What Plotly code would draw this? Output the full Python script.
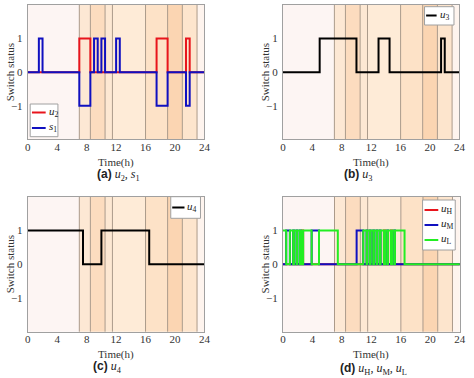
import plotly.graph_objects as go

# ---------------- data ----------------
hours_ticks = [0, 4, 8, 12, 16, 20, 24]
status_ticks = [-1, 0, 1]

# background price periods (boundaries, colours)
period_edges = [0, 7, 8.5, 10.5, 11.5, 16, 19, 21, 23, 24]
period_colors = ["#fdf5f3", "#fde8d4", "#fcdcbf", "#fde8d3", "#feebd7",
                 "#fde2c7", "#fbd5b2", "#fde5cd", "#fef4ee"]

# (a)
u2_t = [0, 7, 8.5, 17.5, 19, 21.5, 22, 24]
u2_v = [0, 1, 0, 1, 0, 1, 0, 0]
s1_t = [0, 1.5, 2, 7, 8.5, 9, 9.5, 10, 10.5, 12, 12.5, 17.5, 19, 21.5, 22, 24]
s1_v = [0, 1, 0, -1, 0, 1, 0, 1, 0, 1, 0, -1, 0, -1, 0, 0]
# (b)
u3_t = [0, 5, 10, 13, 14.5, 21.5, 22, 24]
u3_v = [0, 1, 0, 1, 0, 1, 0, 0]
# (c)
u4_t = [0, 7.5, 10, 16.5, 24]
u4_v = [1, 0, 1, 0, 0]
# (d) active device in each interval
d_times = [0, 0.45, 0.95, 1.4, 1.5, 1.85, 1.95, 2.3, 2.4, 2.6, 2.75, 3.9, 4.9, 7.45,
           10, 10.9, 11.35, 11.45, 11.8, 11.9, 12.25, 12.35, 12.7, 12.8, 13.15, 13.25,
           13.7, 13.85, 14.15, 14.25, 14.65, 14.8, 15.1, 15.2, 16.5, 24]
d_active = ["L", "M", "L", "M", "L", "M", "L", "M", "L", "H", "L", "M", "L", "-",
            "M", "L", "M", "L", "M", "L", "M", "L", "M", "L", "M",
            "L", "H", "L", "M", "L", "H", "L", "M", "L", "-", "-"]

def dev_values(name):
    return [1 if a == name else 0 for a in d_active]

# ---------------- layout geometry ----------------
W, H = 474, 378
panels = {
    "a": dict(x=(25.3, 205.3), y=(5, 139.3)),
    "b": dict(x=(285.3, 465.3), y=(5, 139.3)),
    "c": dict(x=(25.3, 205.3), y=(196.7, 331.7)),
    "d": dict(x=(285.3, 465.7), y=(196.7, 331.7)),
}
axis_ids = {"a": ("x", "y"), "b": ("x2", "y2"), "c": ("x3", "y3"), "d": ("x4", "y4")}

def px_x(v): return v / W
def px_y(v): return 1 - v / H

fig = go.Figure()

RED, BLUE, GREEN, BLACK = "#e8141c", "#1010c0", "#22ee22", "#000000"
LW = 2

def add(panel, t, v, name, color):
    xa, ya = axis_ids[panel]
    fig.add_trace(go.Scatter(x=t, y=v, mode="lines", line_shape="hv",
                             line=dict(color=color, width=LW),
                             name=name, xaxis=xa, yaxis=ya, showlegend=False))

add("a", u2_t, u2_v, "u2", RED)
add("a", s1_t, s1_v, "s1", BLUE)
add("b", u3_t, u3_v, "u3", BLACK)
add("c", u4_t, u4_v, "u4", BLACK)
add("d", d_times, dev_values("H"), "uH", RED)
add("d", d_times, dev_values("M"), "uM", BLUE)
add("d", d_times, dev_values("L"), "uL", GREEN)

SERIF = "Liberation Serif, Times New Roman, serif"
tickfont = dict(family=SERIF, size=11, color="#333333")
layout = dict(width=W, height=H, margin=dict(l=0, r=0, t=0, b=0),
              paper_bgcolor="white", plot_bgcolor="white", showlegend=False)

shapes = []
annotations = []
for key, p in panels.items():
    xa, ya = axis_ids[key]
    xname = "xaxis" + xa[1:]
    yname = "yaxis" + ya[1:]
    layout[xname] = dict(domain=[px_x(p["x"][0]), px_x(p["x"][1])], range=[0, 24],
                         tickvals=hours_ticks, tickfont=tickfont, showgrid=False,
                         zeroline=False, showline=True, mirror=True,
                         linecolor="#a0a0a0", linewidth=1, anchor=ya, ticks="",
                         ticklen=0, ticklabelstandoff=-3, fixedrange=True)
    layout[yname] = dict(domain=[px_y(p["y"][1]), px_y(p["y"][0])], range=[-2, 2],
                         tickvals=status_ticks, tickfont=tickfont, showgrid=False,
                         zeroline=False, showline=True, mirror=True,
                         linecolor="#a0a0a0", linewidth=1, anchor=xa, ticks="",
                         ticklen=0, ticklabelstandoff=2, fixedrange=True)
    for i, c in enumerate(period_colors):
        shapes.append(dict(type="rect", xref=xa, yref=ya + " domain",
                           x0=period_edges[i], x1=period_edges[i + 1], y0=0, y1=1,
                           fillcolor=c, line=dict(width=0), layer="below"))
    for e in period_edges[1:-1]:
        shapes.append(dict(type="line", xref=xa, yref=ya + " domain",
                           x0=e, x1=e, y0=0, y1=1,
                           line=dict(color="#ab9a8a", width=1), layer="below"))
    # y title
    xc = p["x"][0] - 18
    annotations.append(dict(text="Switch status", x=px_x(xc), y=px_y((p["y"][0] + p["y"][1]) / 2),
                            xref="paper", yref="paper", textangle=-90, showarrow=False,
                            font=dict(family=SERIF, size=11, color="#333333"),
                            xanchor="center", yanchor="middle"))
    annotations.append(dict(text="Time(h)", x=px_x((p["x"][0] + p["x"][1]) / 2),
                            y=px_y(p["y"][1] + 23), xref="paper", yref="paper",
                            showarrow=False, xanchor="center", yanchor="middle",
                            font=dict(family=SERIF, size=11, color="#333333")))

cap_font = dict(family=SERIF, size=12, color="#222222")
def cap(label, rest):
    return ('<span style="font-family:\'Liberation Sans\';font-weight:bold">(' + label + ')</span> '
            + rest)
captions = [
    (cap("a", "<i>u</i><sub>2</sub>, <i>s</i><sub>1</sub>"), 117.5, 175),
    (cap("b", "<i>u</i><sub>3</sub>"), 362, 175),
    (cap("c", "<i>u</i><sub>4</sub>"), 107, 367),
    (cap("d", "<i>u</i><sub>H</sub>, <i>u</i><sub>M</sub>, <i>u</i><sub>L</sub>"), 378, 369),
]
for txt, cx, cy in captions:
    annotations.append(dict(text=txt, x=px_x(cx), y=px_y(cy), xref="paper", yref="paper",
                            showarrow=False, xanchor="center", yanchor="middle", font=cap_font))

# ---------------- hand-drawn legends (paper pixels) ----------------
legends = [
    # box (x0, y0, x1, y1), line x0, line x1, text x, items [(label, color, y)]
    ((27.7, 104, 56, 136.7), 29.5, 43.5, 45,
     [("<i>u</i><sub>2</sub>", RED, 112.5), ("<i>s</i><sub>1</sub>", BLUE, 128)]),
    ((429.7, 6.7, 459.7, 25), 431.3, 442, 443,
     [("<i>u</i><sub>3</sub>", BLACK, 15.5)]),
    ((171, 196.7, 201.3, 218.3), 172.5, 185, 186,
     [("<i>u</i><sub>4</sub>", BLACK, 207.5)]),
    ((427.7, 200, 461, 250), 429.7, 443.7, 444.5,
     [("<i>u</i><sub>H</sub>", RED, 210), ("<i>u</i><sub>M</sub>", BLUE, 225),
      ("<i>u</i><sub>L</sub>", GREEN, 240)]),
]
for (bx0, by0, bx1, by1), lx0, lx1, tx, items in legends:
    shapes.append(dict(type="rect", xref="paper", yref="paper",
                       x0=px_x(bx0), x1=px_x(bx1), y0=px_y(by1), y1=px_y(by0),
                       fillcolor="white", line=dict(color="#a0a0a0", width=1), layer="above"))
    for label, color, yy in items:
        shapes.append(dict(type="line", xref="paper", yref="paper",
                           x0=px_x(lx0), x1=px_x(lx1), y0=px_y(yy), y1=px_y(yy),
                           line=dict(color=color, width=2), layer="above"))
        annotations.append(dict(text=label, x=px_x(tx), y=px_y(yy - 1), xref="paper",
                                yref="paper", showarrow=False, xanchor="left",
                                yanchor="middle",
                                font=dict(family=SERIF, size=11, color="#222222")))

layout["shapes"] = shapes
layout["annotations"] = annotations
fig.update_layout(**layout)
fig.write_html("out.html")
